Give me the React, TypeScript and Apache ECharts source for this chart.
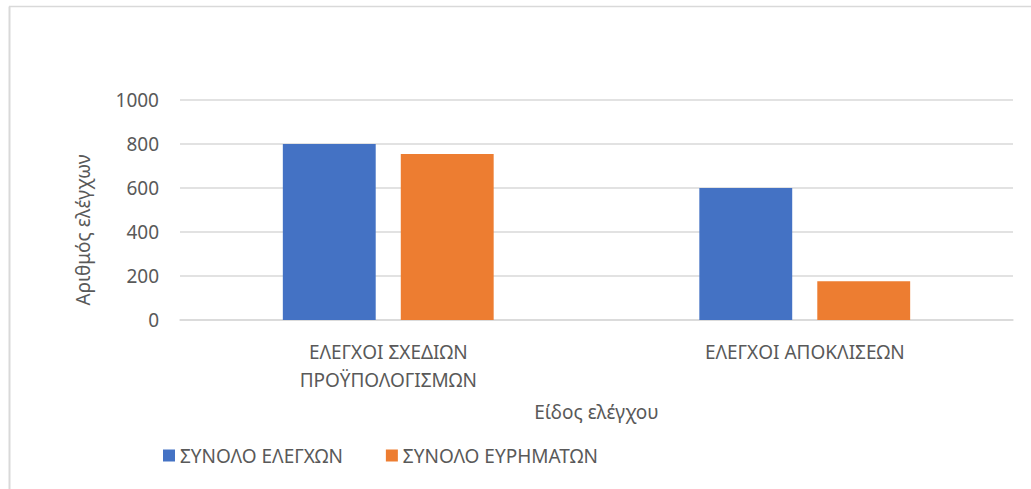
import React, { useEffect, useRef } from "react";
import * as echarts from "echarts";

// Control types (category axis)
const categories = ["ΕΛΕΓΧΟΙ ΣΧΕΔΙΩΝ\nΠΡΟΫΠΟΛΟΓΙΣΜΩΝ", "ΕΛΕΓΧΟΙ ΑΠΟΚΛΙΣΕΩΝ"];
// Totals per control type
const totalControls = [800, 600];
const totalFindings = [754, 176];
const seriesNames = ["ΣΥΝΟΛΟ ΕΛΕΓΧΩΝ", "ΣΥΝΟΛΟ ΕΥΡΗΜΑΤΩΝ"];
const yTicks = [0, 200, 400, 600, 800, 1000];

const FONT = "'Noto Sans', 'Open Sans', sans-serif";
const TEXT = "#595959";
const GRID = "#d9d9d9";

export default function App() {
  const ref = useRef<HTMLDivElement>(null);

  useEffect(() => {
    if (!ref.current) return;
    const chart = echarts.init(ref.current, undefined, { renderer: "svg" });
    chart.setOption({
      animation: false,
      backgroundColor: "#ffffff",
      textStyle: { fontFamily: FONT },
      color: ["#4472C4", "#ED7D31"],
      graphic: [
        {
          type: "line",
          shape: { x1: 9.5, y1: 6.5, x2: 9.5, y2: 489 },
          style: { stroke: GRID, lineWidth: 2 },
        },
        {
          type: "line",
          shape: { x1: 9, y1: 6.5, x2: 1031, y2: 6.5 },
          style: { stroke: GRID, lineWidth: 1.5 },
        },
      ],
      grid: { left: 180, right: 18, top: 100, bottom: 169, containLabel: false },
      legend: {
        left: 158,
        top: 441,
        icon: "rect",
        itemWidth: 12,
        itemHeight: 12,
        itemGap: 43,
        textStyle: { color: TEXT, fontSize: 19, fontFamily: FONT },
        data: seriesNames,
      },
      xAxis: {
        type: "category",
        data: categories,
        name: "Είδος ελέγχου",
        nameLocation: "middle",
        nameGap: 82,
        nameTextStyle: { color: TEXT, fontSize: 19, fontFamily: FONT },
        axisLine: { lineStyle: { color: GRID, width: 1.5 } },
        axisTick: { show: false },
        axisLabel: {
          color: TEXT,
          fontSize: 19,
          lineHeight: 28,
          margin: 18,
          fontFamily: FONT,
          interval: 0,
        },
      },
      yAxis: {
        type: "value",
        min: yTicks[0],
        max: yTicks[yTicks.length - 1],
        interval: yTicks[1] - yTicks[0],
        name: "Αριθμός ελέγχων",
        nameLocation: "middle",
        nameGap: 88,
        nameTextStyle: {
          color: TEXT,
          fontSize: 19,
          fontFamily: FONT,
          padding: [0, 40, 0, 0],
        },
        axisLine: { show: false },
        axisTick: { show: false },
        axisLabel: {
          color: TEXT,
          fontSize: 19,
          margin: 21,
          fontFamily: FONT,
          formatter: (v: number) => String(v),
        },
        splitLine: { lineStyle: { color: GRID, width: 1.5 } },
      },
      series: [
        {
          name: seriesNames[0],
          type: "bar",
          data: totalControls,
          barWidth: "22.3%",
          barGap: "27%",
        },
        {
          name: seriesNames[1],
          type: "bar",
          data: totalFindings,
          barWidth: "22.3%",
        },
      ],
    });
    return () => chart.dispose();
  }, []);

  return (
    <div
      ref={ref}
      style={{ position: "fixed", left: 0, top: 0, width: 1031, height: 489 }}
    />
  );
}
